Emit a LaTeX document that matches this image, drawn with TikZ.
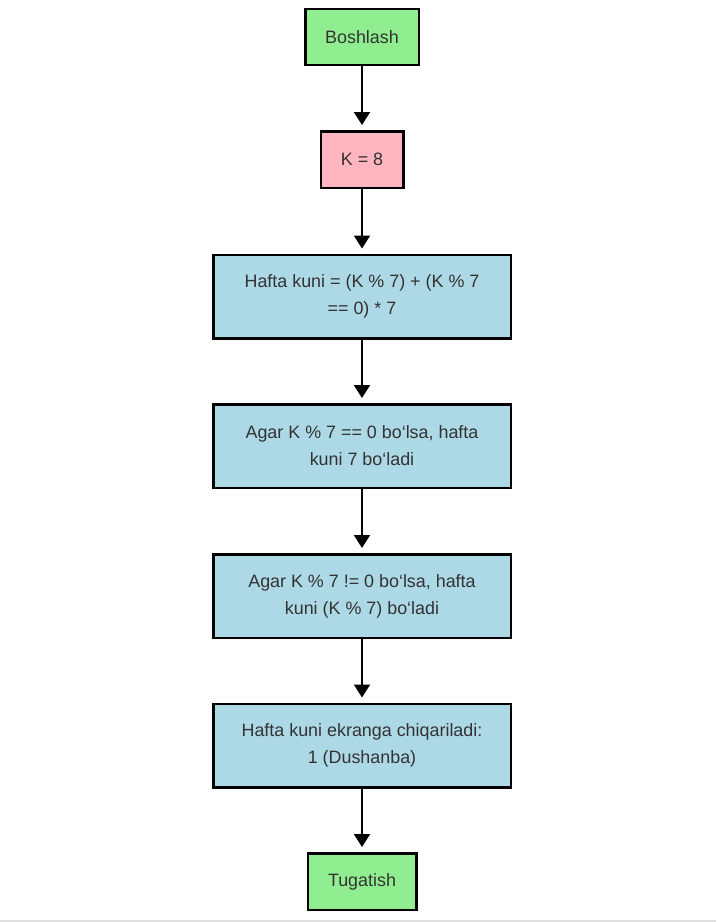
\documentclass[tikz,border=0pt]{standalone}
\usepackage{fontspec}
\setmainfont{Liberation Sans}
\usetikzlibrary{arrows.meta}
\definecolor{termgreen}{HTML}{90EE90}
\definecolor{initpink}{HTML}{FFB6C1}
\definecolor{stepblue}{HTML}{ADD8E6}
\definecolor{textgrey}{HTML}{333333}
\tikzset{
	flowbox/.style = {draw, line width = 2.5pt, text = textgrey, inner sep = 0pt, align = center,
		font = \fontsize{17.9}{27}\selectfont},
	termbox/.style = {flowbox, fill = termgreen, minimum height = 56pt},
	initbox/.style = {flowbox, fill = initpink, minimum width = 82.5pt, minimum height = 56.5pt},
	stepbox/.style = {flowbox, fill = stepblue, minimum width = 297.5pt, minimum height = 83.5pt},
	flowarrow/.style = {line width = 2pt, -{Triangle[width = 16pt, length = 13pt]}, shorten > = 5pt}
}
\begin{document}
\begin{tikzpicture}[x = 1pt, y = -1pt]
	\useasboundingbox (0, 0) rectangle (716, 922);
	\fill [white] (0, 0) rectangle (716, 922);

	% Start und Initialisierung
	\node [termbox, minimum width = 113.5pt] (start) at (362, 37) {Boshlash};
	\node [initbox] (init) at (362, 159.5) {K = 8};

	% Rechenschritte
	\node [stepbox] (formula) at (362, 296.5) {Hafta kuni = (K \% 7) + (K \% 7\\ == 0) * 7};
	\node [stepbox] (zero) at (362, 446) {Agar K \% 7 == 0 bo‘lsa, hafta\\ kuni 7 bo‘ladi};
	\node [stepbox] (nonzero) at (362, 596) {Agar K \% 7 != 0 bo‘lsa, hafta\\ kuni (K \% 7) bo‘ladi};
	\node [stepbox] (output) at (362, 745.5) {Hafta kuni ekranga chiqariladi:\\ 1 (Dushanba)};

	% Ende
	\node [termbox, minimum width = 108.5pt, minimum height = 56.5pt] (finish) at (362, 881.5) {Tugatish};

	% Pfeile
	\draw [flowarrow] (start) -- (init);
	\draw [flowarrow] (init) -- (formula);
	\draw [flowarrow] (formula) -- (zero);
	\draw [flowarrow] (zero) -- (nonzero);
	\draw [flowarrow] (nonzero) -- (output);
	\draw [flowarrow] (output) -- (finish);

	% Unterkante
	\draw [black!12, line width = 1.5pt] (0, 921) -- (716, 921);
\end{tikzpicture}
\end{document}
